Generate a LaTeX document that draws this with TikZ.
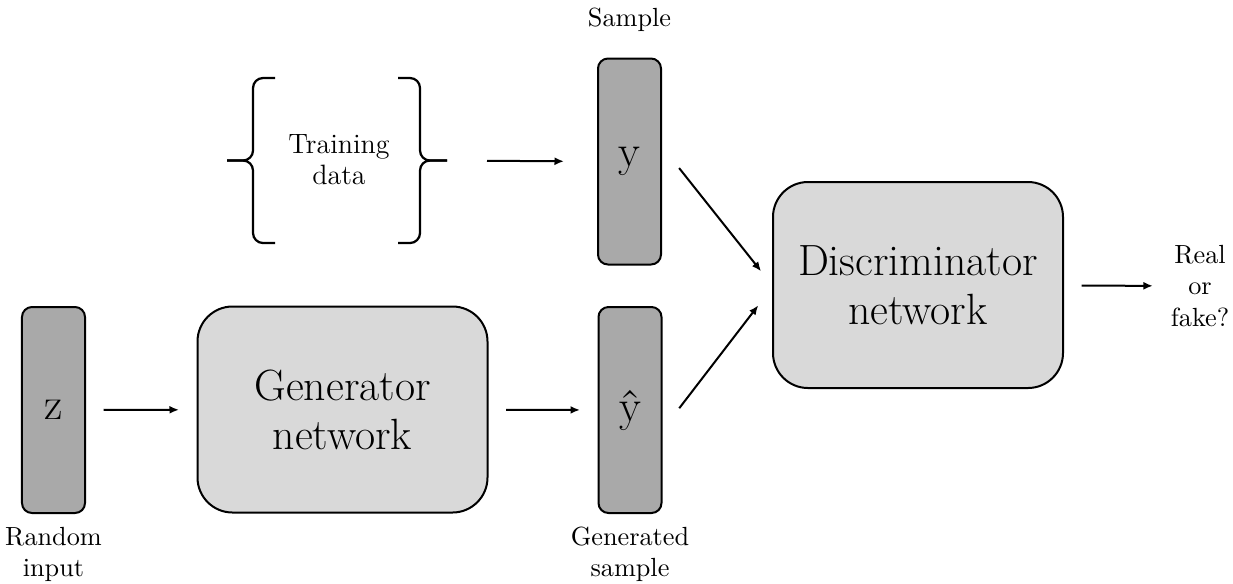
\documentclass[tikz,border=0pt]{standalone}
\usetikzlibrary{arrows.meta,positioning}
\definecolor{boxgray}{RGB}{217,217,217}
\definecolor{vecgray}{RGB}{169,169,169}
\begin{document}
\begin{tikzpicture}[x=0.4pt,y=-0.4pt,
    vec/.style={draw, fill=vecgray, line width=0.8pt, rounded corners=4pt, minimum width=25.2pt, minimum height=82.4pt, inner sep=0pt, font=\fontsize{18}{21}\selectfont},
    net/.style={draw, fill=boxgray, line width=0.8pt, rounded corners=14pt, minimum width=116pt, minimum height=82.4pt, align=center, font=\fontsize{17.5}{19.5}\selectfont},
    lbl/.style={align=center, inner sep=0pt, font=\fontsize{10.5}{12.5}\selectfont},
    arr/.style={-{Latex[length=3.8pt,width=3.2pt]}, line width=0.8pt, shorten <=7pt, shorten >=7pt},
    brc/.style={line width=0.9pt, rounded corners=4pt}]
    \useasboundingbox (0,0) rectangle (1233,583);

    % Generator side: noise vector, network, generated sample
    \node[vec] (z) at (53.5,410) {z};
    \node[lbl, below=5pt of z] (zlbl) {Random\\input};
    \node[net] (gen) at (342.5,409.5) {Generator\\network};
    \node[vec] (yhat) at (630,410) {\^{y}};
    \node[lbl, below=5pt of yhat] (yhatlbl) {Generated\\sample};

    % Real side: training data between braces, and a sample drawn from it
    \node[lbl, font=\fontsize{11.2}{12.5}\selectfont] (train) at (339,160) {Training\\data};
    \draw[brc] (275,78) -- (253,78) -- (253,160.5) -- (227,160.5);
    \draw[brc] (227,160.5) -- (253,160.5) -- (253,243) -- (275,243);
    \draw[brc] (398,78) -- (420,78) -- (420,160.5) -- (447,160.5);
    \draw[brc] (447,160.5) -- (420,160.5) -- (420,243) -- (398,243);
    \coordinate (tr) at (447,160.5);
    \node[vec] (y) at (629.5,161.5) {y};
    \node[lbl, above=10pt of y] (ylbl) {Sample};

    % Discriminator and its output
    \node[net] (disc) at (918,285) {Discriminator\\network};
    \node[lbl] (out) at (1200,286) {Real\\or\\fake?};

    % Arrows
    \draw[arr] (z) -- (gen);
    \draw[arr] (gen) -- (yhat);
    \draw[arr, shorten <=16pt, shorten >=13.2pt] (tr) -- (y.west);
    \draw[arr, shorten <=11pt] ([yshift=6pt]y.east) -- (disc.west);
    \draw[arr, shorten <=11pt, shorten >=9pt] ([yshift=-8pt]yhat.east) -- ([yshift=-1pt]disc.west);
    \draw[arr] (disc) -- (out);
\end{tikzpicture}
\end{document}
